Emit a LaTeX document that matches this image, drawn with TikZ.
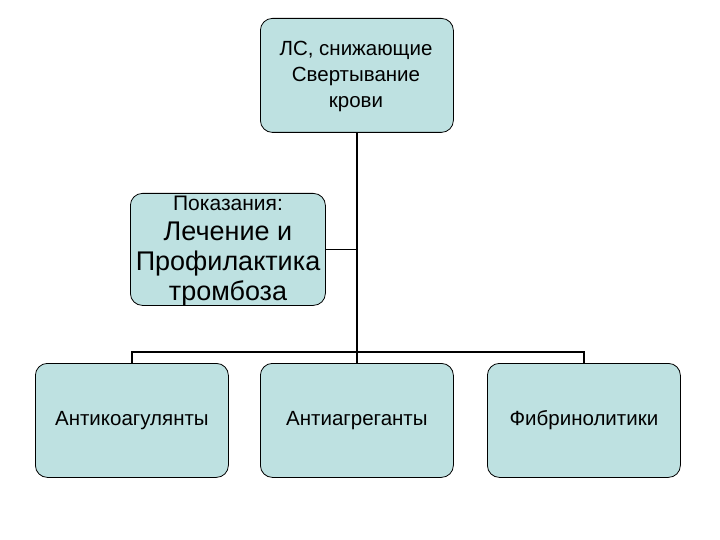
\documentclass[tikz,border=0pt]{standalone}
\usepackage{fontspec}
\setmainfont{Liberation Sans}
\begin{document}
\begin{tikzpicture}[x=1pt,y=-1pt,
  box/.style={draw=black,line width=0.8pt,fill={rgb,255:red,190;green,225;blue,225},rounded corners=12pt,minimum width=193pt,minimum height=114pt,align=center,inner sep=0pt},
  conn/.style={draw=black,line width=1.6pt}]
\useasboundingbox (0,0) rectangle (720,540);
\node[box,anchor=north west] (top) at (260,18) {};
\node[align=center,font=\fontsize{20.5}{26}\selectfont,anchor=north] (topt) at (356,38) {ЛС, снижающие\\Свертывание\\крови};
\node[box,minimum width=195pt,minimum height=112pt,anchor=north west] (mid) at (130,193) {};
\node[align=center,font=\fontsize{27}{30}\selectfont,inner sep=0pt] (midt) at (228,251) {{\fontsize{21}{24}\selectfont Показания:}\\Лечение и\\Профилактика\\тромбоза};
\node[box,font=\fontsize{20.5}{24}\selectfont,anchor=north west] (b1) at (35,363) {Антикоагулянты};
\node[box,font=\fontsize{20.5}{24}\selectfont,anchor=north west] (b2) at (260,363) {Антиагреганты};
\node[box,font=\fontsize{20.5}{24}\selectfont,anchor=north west] (b3) at (487,363) {Фибринолитики};
\coordinate (j) at (top.south |- 0,352);
\draw[conn] (top.south) -- (b2.north);
\draw[conn] (mid.east) -- (top.south |- mid.east);
\draw[conn] (b1.north) -- (b1.north |- j) -- (b3.north |- j) -- (b3.north);
\end{tikzpicture}
\end{document}
